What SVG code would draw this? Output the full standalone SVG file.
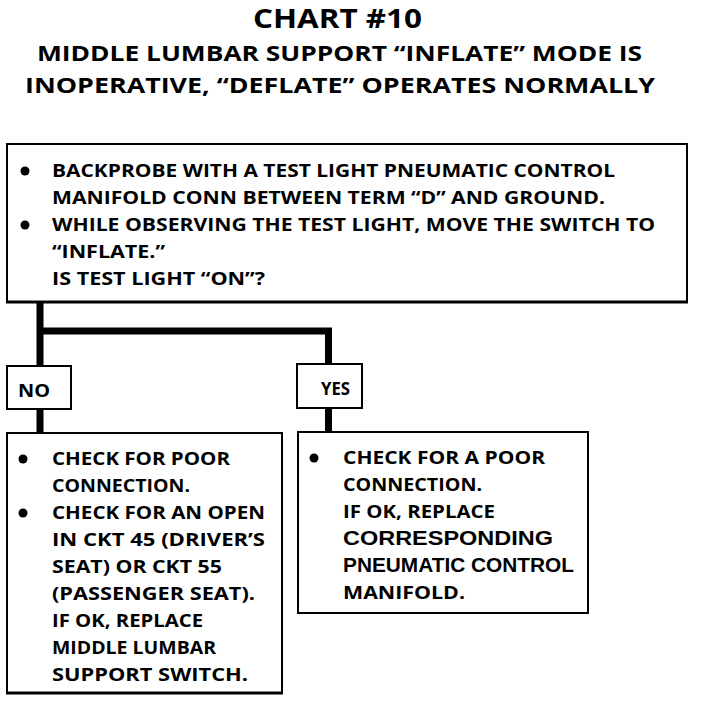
<svg xmlns="http://www.w3.org/2000/svg" width="704" height="704" viewBox="0 0 704 704">
<style>
.t{font-family:"Open Sans","DejaVu Sans",sans-serif;font-weight:bold;fill:#000}
.b{font-size:17.5px}
.h{font-family:"Liberation Sans",Arial,sans-serif;font-weight:bold;font-size:20px;fill:#000}
.box{fill:#fff;stroke:#000;stroke-width:2}
.conn{fill:none;stroke:#000;stroke-width:7;stroke-linecap:butt}
</style>
<rect width="704" height="704" fill="#fff"/>
<g id="title">
<text class="t" x="253" y="28" font-size="26" textLength="169" lengthAdjust="spacingAndGlyphs">CHART #10</text>
<text class="t" x="37" y="61" font-size="22" textLength="605" lengthAdjust="spacingAndGlyphs">MIDDLE LUMBAR SUPPORT “INFLATE” MODE IS</text>
<text class="t" x="25" y="93" font-size="22" textLength="630" lengthAdjust="spacingAndGlyphs">INOPERATIVE, “DEFLATE” OPERATES NORMALLY</text>
</g>
<g id="connectors">
<path class="conn" d="M40,302 V433"/>
<path class="conn" d="M40,331 H328.5 V432"/>
</g>
<g id="start">
<rect class="box" x="7" y="144" width="680" height="158"/>
<line x1="6" y1="302" x2="688" y2="302" stroke="#000" stroke-width="3"/>
<circle cx="25" cy="171" r="4.5"/>
<circle cx="25" cy="225" r="4.5"/>
<text class="t b" x="52" y="177" textLength="563" lengthAdjust="spacingAndGlyphs">BACKPROBE WITH A TEST LIGHT PNEUMATIC CONTROL</text>
<text class="t b" x="52" y="204" textLength="553" lengthAdjust="spacingAndGlyphs">MANIFOLD CONN BETWEEN TERM “D” AND GROUND.</text>
<text class="t b" x="52" y="231" textLength="603" lengthAdjust="spacingAndGlyphs">WHILE OBSERVING THE TEST LIGHT, MOVE THE SWITCH TO</text>
<text class="t b" x="52" y="258" textLength="113" lengthAdjust="spacingAndGlyphs">“INFLATE.”</text>
<text class="t b" x="52" y="285" textLength="213" lengthAdjust="spacingAndGlyphs">IS TEST LIGHT “ON”?</text>
</g>
<g id="no">
<rect class="box" x="7" y="366" width="64" height="43"/>
<text class="t" x="18" y="397" font-size="17" textLength="32" lengthAdjust="spacingAndGlyphs">NO</text>
</g>
<g id="yes">
<rect class="box" x="297" y="364" width="65" height="44"/>
<text class="t" x="321" y="395" font-size="17" textLength="29" lengthAdjust="spacingAndGlyphs">YES</text>
</g>
<g id="no-action">
<rect class="box" x="7" y="433" width="275" height="260"/>
<line x1="6" y1="693" x2="283" y2="693" stroke="#000" stroke-width="3"/>
<circle cx="23" cy="459" r="4.5"/>
<circle cx="23" cy="513" r="4.5"/>
<text class="t b" x="52" y="465" textLength="178" lengthAdjust="spacingAndGlyphs">CHECK FOR POOR</text>
<text class="t b" x="52" y="492" textLength="138" lengthAdjust="spacingAndGlyphs">CONNECTION.</text>
<text class="t b" x="52" y="519" textLength="213" lengthAdjust="spacingAndGlyphs">CHECK FOR AN OPEN</text>
<text class="t b" x="52" y="546" textLength="213" lengthAdjust="spacingAndGlyphs">IN CKT 45 (DRIVER’S</text>
<text class="t b" x="52" y="573" textLength="170" lengthAdjust="spacingAndGlyphs">SEAT) OR CKT 55</text>
<text class="t b" x="52" y="600" textLength="203" lengthAdjust="spacingAndGlyphs">(PASSENGER SEAT).</text>
<text class="t b" x="52" y="627" textLength="151" lengthAdjust="spacingAndGlyphs">IF OK, REPLACE</text>
<text class="t b" x="52" y="654" textLength="164" lengthAdjust="spacingAndGlyphs">MIDDLE LUMBAR</text>
<text class="t b" x="52" y="681" textLength="196" lengthAdjust="spacingAndGlyphs">SUPPORT SWITCH.</text>
</g>
<g id="yes-action">
<rect class="box" x="298" y="432" width="290" height="181"/>
<circle cx="314" cy="458" r="4.5"/>
<text class="t b" x="343" y="464" textLength="202" lengthAdjust="spacingAndGlyphs">CHECK FOR A POOR</text>
<text class="t b" x="343" y="491" textLength="139" lengthAdjust="spacingAndGlyphs">CONNECTION.</text>
<text class="t b" x="343" y="518" textLength="152" lengthAdjust="spacingAndGlyphs">IF OK, REPLACE</text>
<text class="h" x="343" y="545" textLength="210" lengthAdjust="spacingAndGlyphs">CORRESPONDING</text>
<text class="h" x="343" y="572" textLength="231" lengthAdjust="spacingAndGlyphs">PNEUMATIC CONTROL</text>
<text class="t b" x="343" y="599" textLength="122" lengthAdjust="spacingAndGlyphs">MANIFOLD.</text>
</g>
</svg>
